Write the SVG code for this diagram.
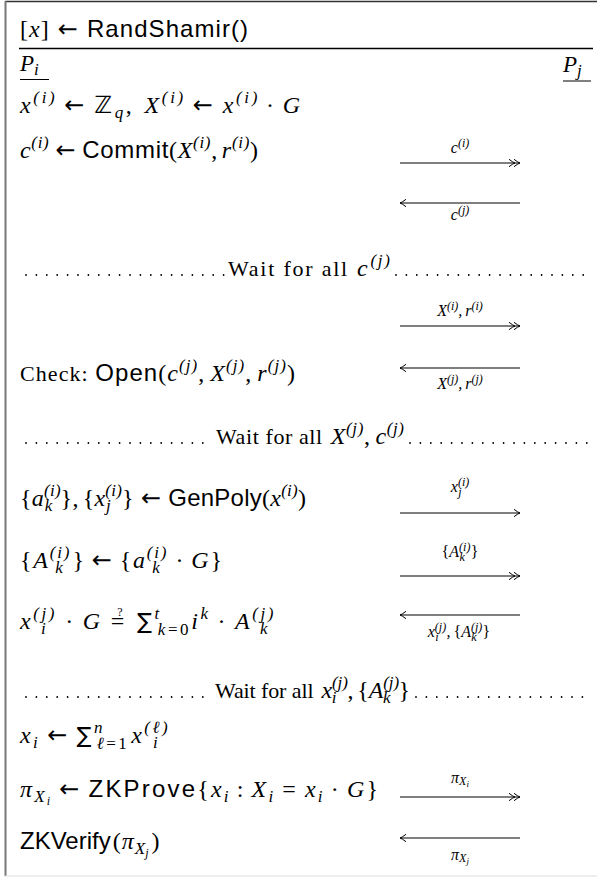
<svg xmlns="http://www.w3.org/2000/svg" width="597" height="877" viewBox="0 0 597 877">
<style>
text{fill:#000}
.m{font-family:"Liberation Serif",serif;font-style:italic;font-size:24px}
.n{font-style:normal}
.sf{font-family:"Liberation Sans",sans-serif;font-style:normal;font-size:24px}
.a{font-family:"DejaVu Sans",sans-serif;font-style:normal;font-size:24px}
.bb{font-family:"DejaVu Sans",sans-serif;font-style:normal}
.sm{font-family:"DejaVu Sans",sans-serif;font-style:normal;font-size:22px}
.su{font-size:17px}
.ss{font-size:12px}
.rm{font-family:"Liberation Serif",serif;font-style:normal;font-size:22px}
.lb{font-family:"Liberation Serif",serif;font-style:italic;font-size:16px}
.ls{font-size:12px}
.ar{stroke:#000;stroke-width:1.1;fill:none}
.dots{stroke:#000;stroke-width:1.8;stroke-linecap:round;stroke-dasharray:0 10.4;fill:none}
</style>
<defs>
<marker id="h1" markerUnits="userSpaceOnUse" markerWidth="12" markerHeight="12" refX="10" refY="6" orient="auto"><path d="M4,2.3 Q8,5.4 10,6 Q8,6.6 4,9.7" fill="none" stroke="#000" stroke-width="1"/></marker>
<marker id="h2" markerUnits="userSpaceOnUse" markerWidth="16" markerHeight="12" refX="14" refY="6" orient="auto"><path d="M8,2.3 Q12,5.4 14,6 Q12,6.6 8,9.7 M3,2.3 Q7,5.4 9,6 Q7,6.6 3,9.7" fill="none" stroke="#000" stroke-width="1"/></marker>
</defs>
<rect x="0" y="0" width="597" height="877" fill="#fff"/>
<g id="frame">
<line x1="5" y1="1.5" x2="597" y2="1.5" stroke="#333" stroke-width="1.5"/>
<line x1="5.5" y1="1" x2="5.5" y2="876" stroke="#777" stroke-width="2"/>
<line x1="5" y1="876" x2="597" y2="876" stroke="#ddd" stroke-width="1"/>
<line x1="19" y1="48.5" x2="593" y2="48.5" stroke="#000" stroke-width="1.3"/>
</g>
<g id="header"><text x="20" y="37" class="m" textLength="228" lengthAdjust="spacing"><tspan class="n">[</tspan>x<tspan class="n">]</tspan><tspan class="a" dx="8">←</tspan><tspan class="sf" dx="8">RandShamir()</tspan></text></g>
<g id="party-i"><text x="20" y="71" class="m" style="font-size:23px">P<tspan class="su" dy="4">i</tspan></text><line x1="20" y1="79.5" x2="49" y2="79.5" stroke="#000" stroke-width="1"/></g>
<g id="party-j"><text x="563" y="72" class="m" style="font-size:23px">P<tspan class="su" dy="4">j</tspan></text><line x1="563" y1="81" x2="591" y2="81" stroke="#000" stroke-width="1"/></g>

<g id="row1"><text x="20" y="113" class="m" textLength="280" lengthAdjust="spacing">x<tspan class="su" dy="-10">(i)</tspan><tspan class="a" dx="7" dy="10">←</tspan><tspan class="bb" dx="7">ℤ</tspan><tspan class="su" dy="5">q</tspan><tspan class="n" dy="-5">,</tspan><tspan dx="10">X</tspan><tspan class="su" dy="-10">(i)</tspan><tspan class="a" dx="7" dy="10">←</tspan><tspan dx="7">x</tspan><tspan class="su" dy="-10">(i)</tspan><tspan class="n" dx="6" dy="10">·</tspan><tspan dx="6">G</tspan></text></g>

<g id="row2"><text x="20" y="158" class="m" textLength="238" lengthAdjust="spacing">c<tspan class="su" dy="-10">(i)</tspan><tspan class="a" dx="6" dy="10">←</tspan><tspan class="sf" dx="6">Commit</tspan><tspan class="n">(</tspan>X<tspan class="su" dy="-10">(i)</tspan><tspan class="n" dy="10">,</tspan><tspan dx="4">r</tspan><tspan class="su" dy="-10">(i)</tspan><tspan class="n" dy="10">)</tspan></text></g>

<g id="wait1"><line class="dots" x1="26" y1="275" x2="224" y2="275"/><text x="228" y="276" class="rm" textLength="162" lengthAdjust="spacing">Wait for all<tspan class="m" dx="8">c</tspan><tspan class="m su" dx="1" dy="-10">(j)</tspan></text><line class="dots" x1="396" y1="275" x2="592" y2="275"/></g>

<g id="check"><text x="20" y="381" class="rm" textLength="275" lengthAdjust="spacing">Check: <tspan class="sf">Open</tspan><tspan style="font-size:24px">(</tspan><tspan class="m">c</tspan><tspan class="m su" dy="-10">(j)</tspan><tspan dy="10" style="font-size:24px">,</tspan><tspan class="m" dx="5">X</tspan><tspan class="m su" dy="-10">(j)</tspan><tspan dy="10" style="font-size:24px">,</tspan><tspan class="m" dx="5">r</tspan><tspan class="m su" dy="-10">(j)</tspan><tspan dy="10" style="font-size:24px">)</tspan></text></g>

<g id="wait2"><line class="dots" x1="26" y1="443" x2="212" y2="443"/><text x="216" y="444" class="rm" textLength="188" lengthAdjust="spacing">Wait for all<tspan class="m" dx="8">X</tspan><tspan class="m su" dy="-10">(j)</tspan><tspan dy="10" style="font-size:24px">,</tspan><tspan class="m" dx="5">c</tspan><tspan class="m su" dy="-10">(j)</tspan></text><line class="dots" x1="410" y1="443" x2="592" y2="443"/></g>

<g id="genpoly"><text x="20" y="506" class="m" textLength="286" lengthAdjust="spacing"><tspan class="n">{</tspan>a<tspan class="su" dy="-10">(i)</tspan><tspan class="su" dx="-16" dy="15">k</tspan><tspan class="n" dx="8" dy="-5">},</tspan><tspan class="n" dx="4">{</tspan>x<tspan class="su" dy="-10">(i)</tspan><tspan class="su" dx="-16" dy="15">j</tspan><tspan class="n" dx="11" dy="-5">}</tspan><tspan class="a" dx="7">←</tspan><tspan class="sf" dx="7">GenPoly</tspan><tspan class="n">(</tspan>x<tspan class="su" dy="-10">(i)</tspan><tspan class="n" dy="10">)</tspan></text></g>

<g id="commitpoly"><text x="20" y="568" class="m" textLength="202" lengthAdjust="spacing"><tspan class="n">{</tspan>A<tspan class="su" dy="-10">(i)</tspan><tspan class="su" dx="-16" dy="15">k</tspan><tspan class="n" dx="8" dy="-5">}</tspan><tspan class="a" dx="6">←</tspan><tspan class="n" dx="6">{</tspan>a<tspan class="su" dy="-10">(i)</tspan><tspan class="su" dx="-16" dy="15">k</tspan><tspan class="n" dx="14" dy="-5">·</tspan><tspan dx="6">G</tspan><tspan class="n">}</tspan></text></g>

<g id="verifyshare"><text x="20" y="629" class="m" textLength="256" lengthAdjust="spacing">x<tspan class="su" dy="-10">(j)</tspan><tspan class="su" dx="-16" dy="15">i</tspan><tspan class="n" dx="17" dy="-5">·</tspan><tspan dx="7">G</tspan><tspan class="n" dx="8">=</tspan><tspan class="n" style="font-size:12px" dx="-9.5" dy="-13">?</tspan><tspan class="sm" dx="12" dy="13">∑</tspan><tspan class="su" dy="-10">t</tspan><tspan class="su" dx="-4" dy="16">k</tspan><tspan class="su n">=0</tspan><tspan dy="-6">i</tspan><tspan class="su" dy="-10">k</tspan><tspan class="n" dx="7" dy="10">·</tspan><tspan dx="7">A</tspan><tspan class="su" dy="-10">(j)</tspan><tspan class="su" dx="-16" dy="15">k</tspan></text></g>

<g id="wait3"><line class="dots" x1="26" y1="697" x2="211" y2="697"/><text x="215" y="698" class="rm" textLength="195" lengthAdjust="spacing">Wait for all<tspan class="m" dx="8">x</tspan><tspan class="m su" dy="-10">(j)</tspan><tspan class="m su" dx="-16" dy="15">i</tspan><tspan dx="11" dy="-5" style="font-size:24px">,</tspan><tspan dx="4" style="font-size:24px">{</tspan><tspan class="m">A</tspan><tspan class="m su" dy="-10">(j)</tspan><tspan class="m su" dx="-16" dy="15">k</tspan><tspan dx="8" dy="-5" style="font-size:24px">}</tspan></text><line class="dots" x1="416" y1="697" x2="592" y2="697"/></g>

<g id="sumshares"><text x="20" y="743" class="m" textLength="150" lengthAdjust="spacing">x<tspan class="su" dy="5">i</tspan><tspan class="a" dx="7" dy="-5">←</tspan><tspan class="sm" dx="7">∑</tspan><tspan class="su" dy="-10">n</tspan><tspan class="su" dx="-8" dy="16">ℓ</tspan><tspan class="su n">=1</tspan><tspan dx="2" dy="-6">x</tspan><tspan class="su" dy="-10">(ℓ)</tspan><tspan class="su" dx="-17" dy="15">i</tspan></text></g>

<g id="zkprove"><text x="20" y="797" class="m" textLength="358" lengthAdjust="spacing">π<tspan class="su" dy="5">X</tspan><tspan class="ss" dy="3">i</tspan><tspan class="a" dx="7" dy="-8">←</tspan><tspan class="sf" dx="7">ZKProve</tspan><tspan class="n">{</tspan>x<tspan class="su" dy="5">i</tspan><tspan class="n" dx="6" dy="-5">:</tspan><tspan dx="6">X</tspan><tspan class="su" dy="5">i</tspan><tspan class="n" dx="7" dy="-5">=</tspan><tspan dx="7">x</tspan><tspan class="su" dy="5">i</tspan><tspan class="n" dx="6" dy="-5">·</tspan><tspan dx="6">G</tspan><tspan class="n">}</tspan></text></g>

<g id="zkverify"><text x="20" y="849" class="m"><tspan class="sf">ZKVerify</tspan><tspan class="n" dx="2">(</tspan><tspan dx="1">π</tspan><tspan class="su" dx="1" dy="5">X</tspan><tspan class="ss" dy="3">j</tspan><tspan class="n" dx="3" dy="-8">)</tspan></text></g>

<g id="connectors">
<line class="ar" x1="400" y1="163" x2="520" y2="163" marker-end="url(#h2)"/>
<line class="ar" x1="520" y1="203" x2="400" y2="203" marker-end="url(#h1)"/>
<line class="ar" x1="400" y1="326" x2="520" y2="326" marker-end="url(#h2)"/>
<line class="ar" x1="520" y1="368" x2="400" y2="368" marker-end="url(#h1)"/>
<line class="ar" x1="400" y1="513" x2="520" y2="513" marker-end="url(#h1)"/>
<line class="ar" x1="400" y1="576" x2="520" y2="576" marker-end="url(#h2)"/>
<line class="ar" x1="520" y1="615" x2="400" y2="615" marker-end="url(#h1)"/>
<line class="ar" x1="400" y1="797" x2="520" y2="797" marker-end="url(#h2)"/>
<line class="ar" x1="520" y1="838" x2="400" y2="838" marker-end="url(#h1)"/>
</g>

<g id="labels">
<text x="460" y="153" class="lb" text-anchor="middle">c<tspan class="ls" dy="-6">(i)</tspan></text>
<text x="460" y="220" class="lb" text-anchor="middle">c<tspan class="ls" dy="-6">(j)</tspan></text>
<text x="460" y="316" class="lb" text-anchor="middle">X<tspan class="ls" dy="-6">(i)</tspan><tspan dy="6">,</tspan><tspan dx="3">r</tspan><tspan class="ls" dy="-6">(i)</tspan></text>
<text x="460" y="389" class="lb" text-anchor="middle">X<tspan class="ls" dy="-6">(j)</tspan><tspan dy="6">,</tspan><tspan dx="3">r</tspan><tspan class="ls" dy="-6">(j)</tspan></text>
<text x="460" y="492" class="lb" text-anchor="middle">x<tspan class="ls" dy="-6">(i)</tspan><tspan class="ls" dx="-11" dy="10">j</tspan><tspan class="ls" dx="8" dy="-4"> </tspan></text>
<text x="460" y="557" class="lb" text-anchor="middle"><tspan class="n">{</tspan>A<tspan class="ls" dy="-6">(i)</tspan><tspan class="ls" dx="-11" dy="10">k</tspan><tspan class="n" dx="6" dy="-4">}</tspan></text>
<text x="459" y="637" class="lb" text-anchor="middle">x<tspan class="ls" dy="-6">(j)</tspan><tspan class="ls" dx="-11" dy="10">i</tspan><tspan dx="8" dy="-4">,</tspan><tspan class="n" dx="3">{</tspan>A<tspan class="ls" dy="-6">(j)</tspan><tspan class="ls" dx="-11" dy="10">k</tspan><tspan class="n" dx="6" dy="-4">}</tspan></text>
<text x="460" y="783" class="lb" text-anchor="middle">π<tspan class="ls" dy="2">X</tspan><tspan style="font-size:9px" dy="2">i</tspan></text>
<text x="460" y="860" class="lb" text-anchor="middle">π<tspan class="ls" dy="2">X</tspan><tspan style="font-size:9px" dy="2">j</tspan></text>
</g>
</svg>
